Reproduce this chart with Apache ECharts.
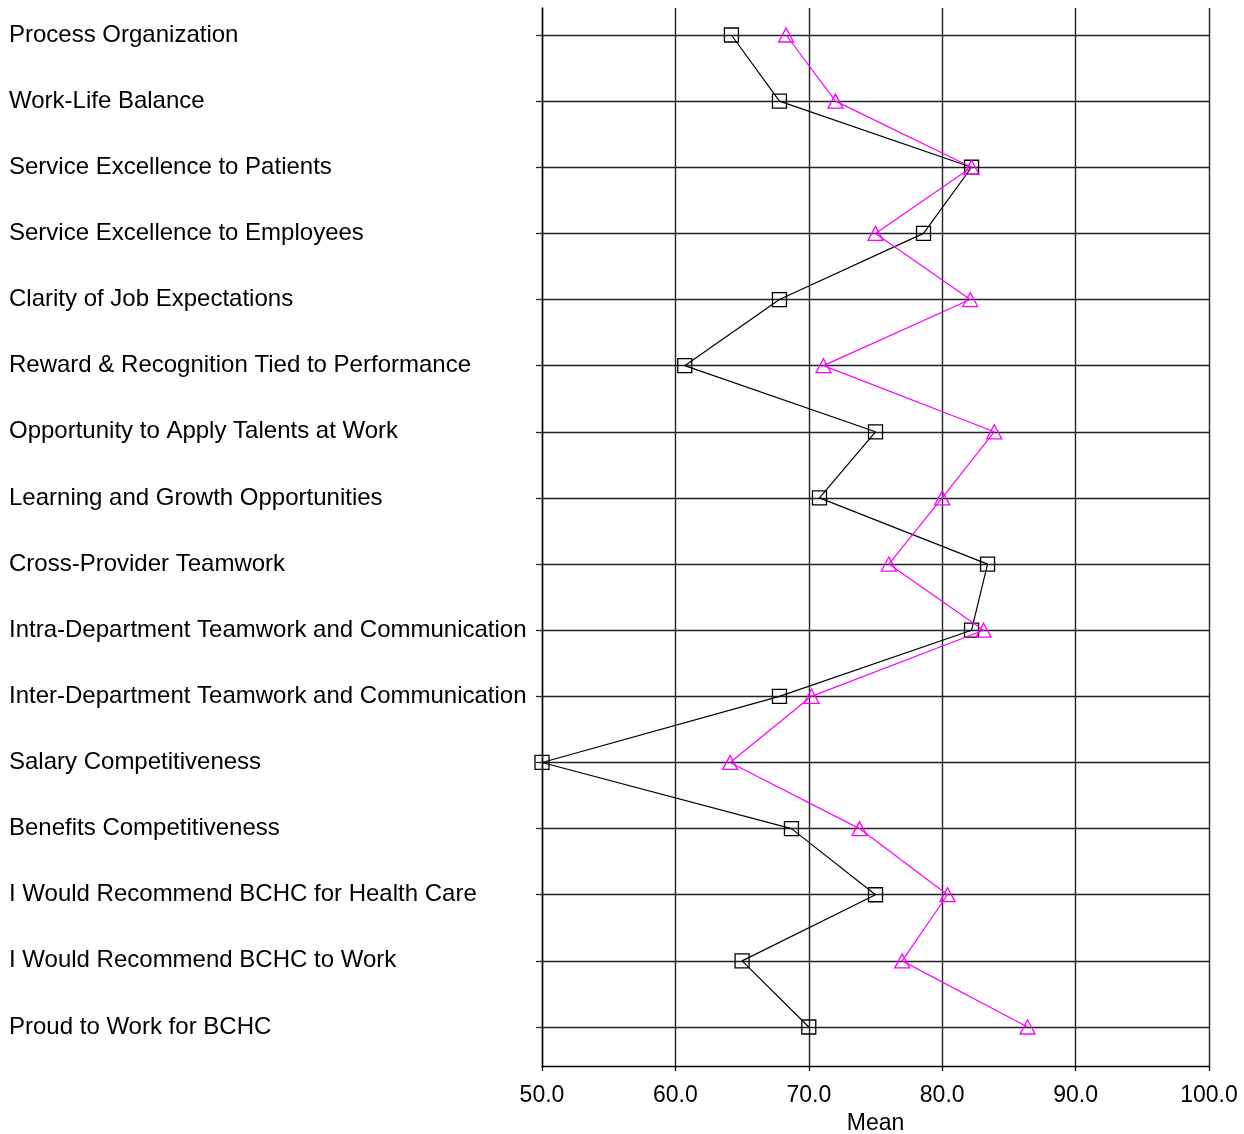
<!DOCTYPE html>
<html><head><meta charset="utf-8">
<script src="https://cdn.jsdelivr.net/npm/echarts@6/dist/echarts.min.js"></script>
<style>html,body{margin:0;padding:0;background:#fff}#c{width:1244px;height:1134px}</style>
</head><body><div id="c"></div>
<script>
const categories = [
  "Process Organization",
  "Work-Life Balance",
  "Service Excellence to Patients",
  "Service Excellence to Employees",
  "Clarity of Job Expectations",
  "Reward & Recognition Tied to Performance",
  "Opportunity to Apply Talents at Work",
  "Learning and Growth Opportunities",
  "Cross-Provider Teamwork",
  "Intra-Department Teamwork and Communication",
  "Inter-Department Teamwork and Communication",
  "Salary Competitiveness",
  "Benefits Competitiveness",
  "I Would Recommend BCHC for Health Care",
  "I Would Recommend BCHC to Work",
  "Proud to Work for BCHC"
];
const seriesBlack = [64.2, 67.8, 82.2, 78.6, 67.8, 60.7, 75.0, 70.8, 83.4, 82.2, 67.8, 50.0, 68.7, 75.0, 65.0, 70.0];
const seriesMagenta = [68.3, 72.0, 82.2, 75.0, 82.1, 71.1, 83.9, 80.0, 76.0, 83.1, 70.2, 64.1, 73.8, 80.4, 77.0, 86.4];
const xMin = 50, xMax = 100, xStep = 10;
const xTitle = "Mean";

const FONT = "'Liberation Sans', Arial, sans-serif";
const chart = echarts.init(document.getElementById('c'), null, {renderer: 'canvas'});
chart.setOption({
  animation: false,
  backgroundColor: '#fff',
  grid: [
    {left: 542, right: 35, top: 8, bottom: 68, show: false, containLabel: false, outerBoundsMode: 'none'},
    {left: 542, right: 35, top: 35, bottom: 107, show: false, containLabel: false, outerBoundsMode: 'none'}
  ],
  xAxis: [
    {
      gridIndex: 0, type: 'value', min: xMin, max: xMax, interval: xStep,
      name: xTitle, nameLocation: 'middle', nameGap: 45,
      nameTextStyle: {fontFamily: FONT, fontSize: 23, color: '#000'},
      axisLine: {show: true, lineStyle: {color: '#000', width: 1.3}},
      axisTick: {show: true, length: 5, lineStyle: {color: '#000', width: 1.3}},
      axisLabel: {fontFamily: FONT, fontSize: 23, color: '#000', margin: 18,
        formatter: v => v.toFixed(1)},
      splitLine: {show: true, lineStyle: {color: '#222', width: 1.4}}
    },
    {
      gridIndex: 1, type: 'value', min: xMin, max: xMax, show: false,
      splitLine: {show: false}
    }
  ],
  yAxis: [
    {
      gridIndex: 0, type: 'value', show: true, min: 0, max: 1,
      axisLine: {show: true, onZero: false, lineStyle: {color: '#000', width: 1.4}},
      axisTick: {show: false}, axisLabel: {show: false}, splitLine: {show: false}
    },
    {
      gridIndex: 1, type: 'category', data: categories, inverse: true, boundaryGap: false,
      axisLine: {show: false},
      axisTick: {show: true, length: 6, lineStyle: {color: '#222', width: 1.3}},
      axisLabel: {fontFamily: FONT, fontSize: 24, color: '#000', align: 'left', margin: 533,
        interval: 0, padding: [4, 0, 0, 0]},
      splitLine: {show: true, interval: 0, lineStyle: {color: '#222', width: 1.3}}
    }
  ],
  series: [
    {
      type: 'line', xAxisIndex: 1, yAxisIndex: 1, data: seriesBlack,
      symbol: 'rect', symbolSize: 14,
      lineStyle: {color: '#000', width: 1.2},
      itemStyle: {color: 'rgba(255,255,255,0)', borderColor: '#000', borderWidth: 1.3},
      z: 3
    },
    {
      type: 'line', xAxisIndex: 1, yAxisIndex: 1, data: seriesMagenta,
      symbol: 'triangle', symbolSize: [15, 14],
      lineStyle: {color: '#ff00ff', width: 1.2},
      itemStyle: {color: 'rgba(255,255,255,0)', borderColor: '#ff00ff', borderWidth: 1.3},
      z: 4
    }
  ]
});
</script></body></html>
